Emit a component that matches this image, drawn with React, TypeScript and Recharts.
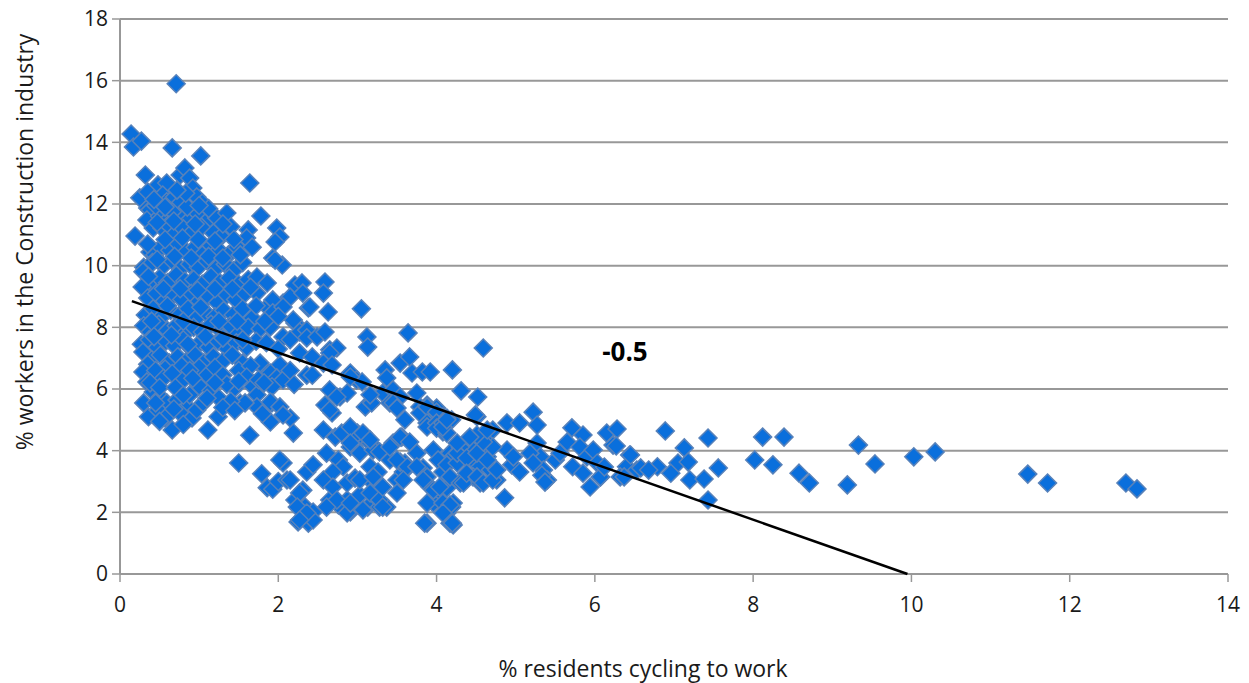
import React from "react";
import { ScatterChart, Scatter, XAxis, YAxis, CartesianGrid, ReferenceDot, Label } from "recharts";

type Pt = [number, number];

// [% residents cycling to work, % workers in construction] per ward

const highShareWards: Pt[] = [
  [0.71, 15.9], [0.14, 14.27], [0.17, 13.85], [0.27, 14.04], [0.66, 13.82], [1.02, 13.56], [1.64, 12.68],
  [0.32, 12.94], [0.48, 12.62], [0.59, 12.68], [0.76, 12.94], [0.82, 13.17], [0.88, 12.84], [0.25, 12.2],
  [0.35, 12.39], [0.35, 11.87], [0.54, 12.29], [0.59, 12.07], [0.69, 12.23], [0.76, 12.03], [0.92, 12.52],
  [0.97, 12.23], [1.04, 12.03], [0.38, 11.81], [0.34, 11.48], [0.5, 11.6], [0.63, 11.55], [0.75, 11.62],
  [0.88, 11.5], [0.98, 11.7], [1.1, 11.45], [1.22, 11.55], [1.35, 11.71], [1.78, 11.61], [0.45, 11.95],
  [0.66, 11.75], [0.85, 11.9], [1.12, 11.85], [0.83, 12.35],
  [0.19, 10.96], [0.42, 11.22], [0.53, 11.22], [0.61, 11.32], [0.7, 11.05], [0.8, 11.2], [0.92, 11.1],
  [1.03, 11.25], [1.18, 11.06], [1.28, 10.95], [1.4, 11.26], [1.62, 11.16], [1.6, 10.9], [1.98, 11.22],
  [2.02, 10.93], [0.38, 10.44], [0.44, 10.35], [0.52, 10.6], [0.63, 10.5], [0.74, 10.7], [0.84, 10.45],
  [0.95, 10.6], [1.06, 10.4], [1.15, 10.65], [1.25, 10.5], [1.37, 10.35], [1.48, 10.6], [1.67, 10.6],
  [1.96, 10.77], [0.3, 9.95], [0.41, 10.1], [0.55, 10.0], [0.66, 10.15], [0.77, 9.9], [0.88, 10.05],
  [0.99, 9.95], [1.1, 10.15], [1.21, 9.9], [1.33, 10.05], [1.44, 9.85], [1.55, 10.1], [1.93, 10.25],
  [2.05, 10.02], [1.96, 10.18],
  [0.57, 11.9], [0.72, 12.45], [0.43, 12.15], [1.0, 11.95], [0.47, 11.4], [0.68, 11.45], [0.95, 11.35],
  [1.3, 11.35], [0.57, 10.85], [0.79, 10.9], [0.99, 10.85], [1.2, 10.8], [1.44, 10.85], [0.35, 10.7],
  [0.47, 10.2], [0.69, 10.3], [0.9, 10.25], [1.12, 10.3], [1.3, 10.25], [1.52, 10.35],
];

const coreWards: Pt[] = [
  [0.29, 9.8], [0.38, 9.44], [0.28, 9.31], [0.5, 9.6], [0.6, 9.45], [0.71, 9.7], [0.82, 9.5], [0.93, 9.55],
  [1.04, 9.4], [1.15, 9.65], [1.26, 9.45], [1.38, 9.6], [1.5, 9.4], [1.62, 9.55], [1.73, 9.63], [1.86, 9.44],
  [2.21, 9.37], [2.3, 9.44], [2.59, 9.47], [2.57, 9.11], [0.35, 8.95], [0.46, 9.1], [0.56, 8.85], [0.67, 9.05],
  [0.78, 8.9], [0.9, 9.1], [1.0, 8.85], [1.12, 9.0], [1.23, 8.8], [1.35, 9.05], [1.46, 8.9], [1.58, 9.1],
  [1.73, 9.11], [1.86, 8.66], [2.06, 8.79], [2.15, 8.98], [2.31, 9.11], [1.93, 8.89], [2.38, 8.63], [2.63, 8.5],
  [0.32, 8.4], [0.42, 8.6], [0.53, 8.35], [0.64, 8.55], [0.75, 8.4], [0.86, 8.6], [0.97, 8.3], [1.08, 8.5],
  [1.2, 8.35], [1.31, 8.55], [1.43, 8.4], [1.55, 8.6], [1.67, 8.3], [1.93, 8.47], [2.06, 8.66], [2.4, 8.66],
  [0.3, 8.05], [0.38, 7.85], [0.49, 8.1], [0.6, 7.9], [0.71, 8.05], [0.82, 7.8], [0.93, 8.0], [1.04, 7.85],
  [1.15, 8.1], [1.27, 7.9], [1.39, 8.05], [1.5, 7.8], [1.62, 8.0], [1.77, 7.95], [1.9, 8.01], [2.06, 7.69],
  [2.21, 8.14], [2.27, 7.85], [2.19, 8.24], [2.36, 7.91], [2.36, 7.66], [2.49, 7.69], [2.59, 7.85],
  [0.27, 7.45], [0.37, 7.6], [0.47, 7.35], [0.58, 7.55], [0.69, 7.4], [0.8, 7.6], [0.9, 7.3], [1.01, 7.5],
  [1.12, 7.35], [1.24, 7.55], [1.36, 7.3], [1.47, 7.5], [1.6, 7.35], [1.72, 7.55], [2.65, 7.27], [2.74, 7.33],
  [2.65, 7.17], [0.29, 7.2], [0.4, 6.95], [0.51, 7.1], [0.62, 6.85], [0.73, 7.05], [0.84, 6.9], [0.95, 7.1],
  [1.06, 6.85], [1.18, 7.05], [1.3, 6.9], [1.42, 7.1], [1.55, 6.84], [1.81, 6.68], [1.77, 6.84], [2.02, 6.78],
  [2.27, 7.17], [2.43, 7.04], [2.57, 6.84], [2.68, 6.78],
  [0.36, 9.65], [0.55, 9.25], [0.76, 9.25], [0.98, 9.2], [1.2, 9.25], [1.42, 9.25], [1.65, 9.3],
  [0.4, 8.2], [0.6, 8.7], [0.8, 8.2], [1.02, 8.65], [1.25, 8.2], [1.48, 8.2], [1.72, 8.7], [1.83, 8.2],
  [2.0, 8.35], [0.43, 7.7], [0.65, 7.75], [0.86, 7.45], [1.08, 7.7], [1.3, 7.65], [1.55, 7.6], [1.85, 7.5],
  [2.0, 7.3], [2.15, 7.6], [0.35, 6.8], [0.57, 6.65], [0.78, 6.75], [1.0, 6.7], [1.5, 6.6], [1.65, 6.75],
];

const lowerCoreWards: Pt[] = [
  [0.29, 6.55], [0.34, 6.23], [0.45, 6.6], [0.55, 6.35], [0.66, 6.5], [0.8, 6.29], [0.88, 6.6], [0.97, 6.03],
  [1.1, 6.45], [1.2, 6.7], [1.3, 6.45], [1.45, 6.03], [1.6, 6.39], [1.9, 6.52], [1.98, 6.36], [2.06, 6.29],
  [2.36, 6.45], [2.43, 6.45], [0.42, 5.9], [0.51, 5.74], [0.59, 5.55], [0.72, 5.64], [0.85, 5.42], [0.88, 5.81],
  [1.0, 6.1], [1.15, 5.95], [1.25, 5.7], [1.35, 6.15], [1.68, 6.07], [1.73, 5.81], [1.92, 6.07], [1.92, 5.55],
  [0.36, 5.1], [0.48, 5.32], [0.57, 5.06], [0.66, 4.67], [0.76, 5.22], [0.91, 5.06], [0.97, 5.32], [1.11, 4.67],
  [1.24, 5.1], [1.52, 5.54], [1.64, 4.5], [1.73, 5.42], [1.9, 4.93], [2.15, 5.06], [2.19, 4.57], [1.9, 5.58],
  [2.02, 5.42], [2.06, 5.16], [1.58, 5.55], [1.4, 5.6], [1.05, 5.55],
  [1.75, 6.3], [2.15, 6.6], [0.38, 6.2], [0.5, 6.05], [0.7, 6.05], [0.92, 6.35], [1.2, 6.2], [1.5, 6.25],
  [1.82, 6.2], [2.2, 6.15], [0.3, 5.55], [0.45, 5.55], [0.68, 5.35], [0.8, 5.8], [1.1, 5.7], [1.3, 5.4],
  [1.45, 5.3], [1.8, 5.2], [0.5, 4.95], [0.8, 4.85],
];

const lowShareWards: Pt[] = [
  [1.5, 3.6], [1.79, 3.25], [1.86, 2.8], [1.93, 2.75], [2.0, 3.0], [2.06, 3.6], [2.11, 3.05], [2.21, 2.4],
  [2.34, 2.17], [2.44, 2.01], [2.25, 1.69], [2.38, 1.65], [2.31, 2.72], [2.36, 3.31], [2.44, 3.54], [2.27, 2.63],
  [2.44, 1.75], [2.02, 3.7], [2.15, 3.05], [2.24, 2.17], [2.36, 1.98], [2.27, 1.75],
];

const midWards: Pt[] = [
  [3.05, 8.6], [3.12, 7.69], [3.13, 7.36], [3.64, 7.82], [3.35, 6.62], [3.37, 6.36], [3.54, 6.84], [3.66, 7.04],
  [3.69, 6.52], [3.82, 6.55], [2.91, 6.52], [2.99, 6.29], [3.06, 6.23], [2.59, 5.48], [2.68, 5.22], [2.78, 5.74],
  [2.87, 5.87], [3.1, 5.42], [3.18, 5.55], [3.32, 5.87], [3.45, 5.97], [3.54, 5.74], [3.41, 5.55], [3.79, 5.42],
  [3.94, 5.1], [2.65, 5.97], [2.74, 5.74], [2.91, 6.39], [3.16, 5.81], [3.45, 5.55], [3.75, 5.87], [3.88, 5.48],
  [4.0, 5.38], [4.08, 5.1], [4.19, 5.0], [2.57, 4.67], [2.65, 5.32], [2.72, 4.44], [2.8, 4.57], [2.61, 3.92],
  [2.76, 3.7], [2.82, 3.48], [2.69, 3.31], [2.65, 2.4], [2.76, 2.24], [2.87, 2.4], [2.91, 2.01], [2.87, 2.95],
  [2.97, 3.11], [3.03, 2.56], [2.91, 4.12], [3.03, 3.92], [3.07, 4.44], [3.16, 4.25], [3.0, 4.57], [3.16, 3.48],
  [3.26, 3.31], [3.16, 3.05], [3.28, 2.82], [3.13, 2.17], [3.28, 2.17], [3.37, 2.17], [3.2, 4.02], [3.28, 3.96],
  [3.41, 3.7], [3.5, 3.05], [3.58, 3.31], [3.54, 3.63], [3.6, 3.6], [3.45, 4.25], [3.56, 4.44], [3.6, 5.0],
  [3.5, 5.38], [3.79, 5.22], [3.88, 5.42], [4.0, 5.25], [4.13, 5.06], [4.02, 4.83], [4.08, 4.61], [3.88, 4.9],
  [3.83, 3.44], [3.88, 3.15], [3.92, 2.82], [4.0, 2.63], [4.13, 2.79], [3.96, 2.3], [4.21, 2.3], [4.13, 1.98],
  [3.88, 1.65], [4.21, 1.59], [3.96, 4.02], [4.02, 3.7], [4.08, 3.31], [2.91, 4.77], [3.07, 4.57], [3.16, 4.35],
  [2.91, 4.25], [3.41, 4.12], [3.54, 4.44], [3.66, 4.28], [3.75, 3.92], [3.88, 4.77], [4.0, 4.9], [4.17, 3.92],
  [2.57, 3.05], [2.69, 2.82], [2.74, 2.4], [2.61, 2.17], [2.87, 1.98], [2.91, 2.3], [3.03, 3.05], [3.16, 2.63],
  [3.28, 2.4], [3.32, 2.82], [3.2, 3.15], [3.07, 2.08], [3.32, 2.17], [3.5, 3.7], [3.63, 3.48], [3.58, 3.05],
  [3.5, 2.63], [3.75, 3.48], [3.83, 3.05], [3.96, 2.72], [3.88, 2.3], [4.08, 2.3], [4.19, 2.17], [4.17, 1.65],
  [3.85, 1.65], [3.92, 6.55], [4.0, 4.73], [4.08, 4.9], [4.13, 4.57],
];

const eastWards: Pt[] = [
  [4.59, 7.33], [4.2, 6.62], [4.31, 5.94], [4.52, 5.74], [5.22, 5.25], [4.51, 5.1], [4.89, 4.9], [5.05, 4.9],
  [5.27, 4.83], [4.71, 4.67], [4.61, 4.35], [4.51, 4.44], [4.42, 4.12], [4.3, 4.12], [4.21, 3.8], [4.13, 3.54],
  [4.86, 2.47], [4.95, 3.54], [5.05, 3.31], [4.89, 4.02], [4.97, 3.8], [5.27, 4.25], [5.31, 3.8], [5.35, 3.37],
  [5.4, 3.05], [5.5, 3.7], [5.56, 3.92], [5.71, 4.74], [5.85, 4.51], [5.65, 4.28], [5.81, 4.12], [5.9, 3.8],
  [5.98, 4.02], [6.03, 3.6], [5.72, 3.48], [5.85, 3.27], [5.94, 2.82], [6.07, 3.15], [6.23, 4.18], [6.44, 3.86],
  [6.4, 3.48], [6.32, 3.15], [6.53, 3.37], [4.08, 4.77], [4.13, 5.0], [4.26, 3.6], [4.17, 3.15], [4.3, 2.95],
  [4.04, 2.82], [4.17, 2.24], [4.08, 1.98], [4.2, 1.65], [4.46, 3.7], [4.55, 3.48], [4.64, 3.8], [4.68, 3.37],
  [4.76, 3.05], [4.46, 3.15], [4.34, 2.95], [4.55, 2.95], [5.18, 3.92], [5.22, 3.6], [4.26, 3.92], [4.38, 3.76],
  [4.51, 3.92], [4.64, 3.7], [4.38, 3.27], [4.51, 3.15], [4.59, 2.95], [4.71, 3.05], [4.76, 3.37], [4.71, 4.12],
  [4.59, 4.28], [4.51, 4.51], [4.64, 4.67], [4.49, 5.16], [4.26, 4.25], [4.42, 4.44], [5.33, 3.2], [5.37, 2.98],
];

const outlierWards: Pt[] = [
  [6.15, 4.57], [6.28, 4.7], [6.27, 4.15], [6.89, 4.64], [7.43, 4.41], [7.13, 4.09], [6.45, 3.86], [6.58, 3.44],
  [6.79, 3.48], [7.05, 3.6], [7.18, 3.63], [6.96, 3.27], [7.2, 3.05], [7.38, 3.08], [7.56, 3.44], [7.43, 2.4],
  [6.07, 3.15], [6.12, 3.47], [6.37, 3.15], [6.68, 3.37], [8.02, 3.7], [8.12, 4.44], [8.25, 3.54], [8.39, 4.44],
  [8.58, 3.27], [8.71, 2.95], [9.19, 2.89], [9.33, 4.18], [9.54, 3.57], [10.03, 3.8], [10.3, 3.96],
  [11.47, 3.24], [11.72, 2.95], [12.71, 2.95], [12.85, 2.76],
];

// Linear trend endpoints (clipped at the x-axis)
const trendX: number[] = [0.15, 9.95];
const trendY: number[] = [8.85, 0];

const xTicks: number[] = [0, 2, 4, 6, 8, 10, 12, 14];
const yTicks: number[] = [0, 2, 4, 6, 8, 10, 12, 14, 16, 18];

const correlationLabel = "-0.5";
const correlationAt = { x: 6.38, y: 7.2 };

const wards = [
  ...highShareWards,
  ...coreWards,
  ...lowerCoreWards,
  ...lowShareWards,
  ...midWards,
  ...eastWards,
  ...outlierWards,
].map(([x, y]) => ({ x, y }));

const trend = trendX.map((x, i) => ({ x, y: trendY[i] }));

const FONT = "'Open Sans', 'Noto Sans', sans-serif";
const GRID = "#989898";

const Diamond = (props: any) => {
  const { cx, cy } = props;
  if (cx == null || cy == null) return <g />;
  const r = 9;
  return (
    <polygon
      points={`${cx},${cy - r} ${cx + r},${cy} ${cx},${cy + r} ${cx - r},${cy}`}
      fill="#0A6FDC"
      stroke="#5882BA"
      strokeWidth={1.5}
    />
  );
};

const NoMarker = () => <g />;

export default function App() {
  return (
    <div style={{ marginTop: -6 }}>
      <ScatterChart
        width={1236}
        height={681}
        margin={{ top: 17, right: 16, bottom: 59, left: 40 }}
        style={{ fontFamily: FONT, overflow: "visible" }}
      >
        <CartesianGrid vertical={false} stroke={GRID} strokeWidth={2} />
        <XAxis
          type="number"
          dataKey="x"
          domain={[0, 14]}
          ticks={xTicks}
          interval={0}
          height={50}
          axisLine={{ stroke: GRID, strokeWidth: 2 }}
          tickLine={{ stroke: GRID, strokeWidth: 1.5 }}
          tickSize={8}
          tickMargin={15}
          tick={{ fill: "#1a1a1a", fontSize: 21, fontFamily: FONT }}
        >
          <Label
            content={() => (
              <text x={635} y={666} textAnchor="middle" dominantBaseline="central" fill="#1a1a1a" fontSize={23} fontFamily={FONT}>
                % residents cycling to work
              </text>
            )}
          />
        </XAxis>
        <YAxis
          type="number"
          dataKey="y"
          domain={[0, 18]}
          ticks={yTicks}
          interval={0}
          width={72}
          axisLine={{ stroke: GRID, strokeWidth: 2 }}
          tickLine={{ stroke: GRID, strokeWidth: 1.5 }}
          tickSize={8}
          tickMargin={4}
          tick={{ fill: "#1a1a1a", fontSize: 21, fontFamily: FONT }}
        >
          <Label
            content={() => (
              <text
                x={16}
                y={240}
                transform="rotate(-90 16 240)"
                textAnchor="middle"
                dominantBaseline="central"
                fill="#1a1a1a"
                fontSize={23}
                fontFamily={FONT}
              >
                % workers in the Construction industry
              </text>
            )}
          />
        </YAxis>
        <Scatter data={wards} shape={Diamond} isAnimationActive={false} />
        <Scatter
          data={trend}
          shape={NoMarker}
          line={{ stroke: "#000000", strokeWidth: 2.5 }}
          isAnimationActive={false}
        />
        <ReferenceDot
          x={correlationAt.x}
          y={correlationAt.y}
          r={0}
          stroke="none"
          fill="none"
          label={{ value: correlationLabel, position: "center", fontSize: 26, fontWeight: 700, fill: "#000", fontFamily: FONT }}
        />
      </ScatterChart>
    </div>
  );
}
